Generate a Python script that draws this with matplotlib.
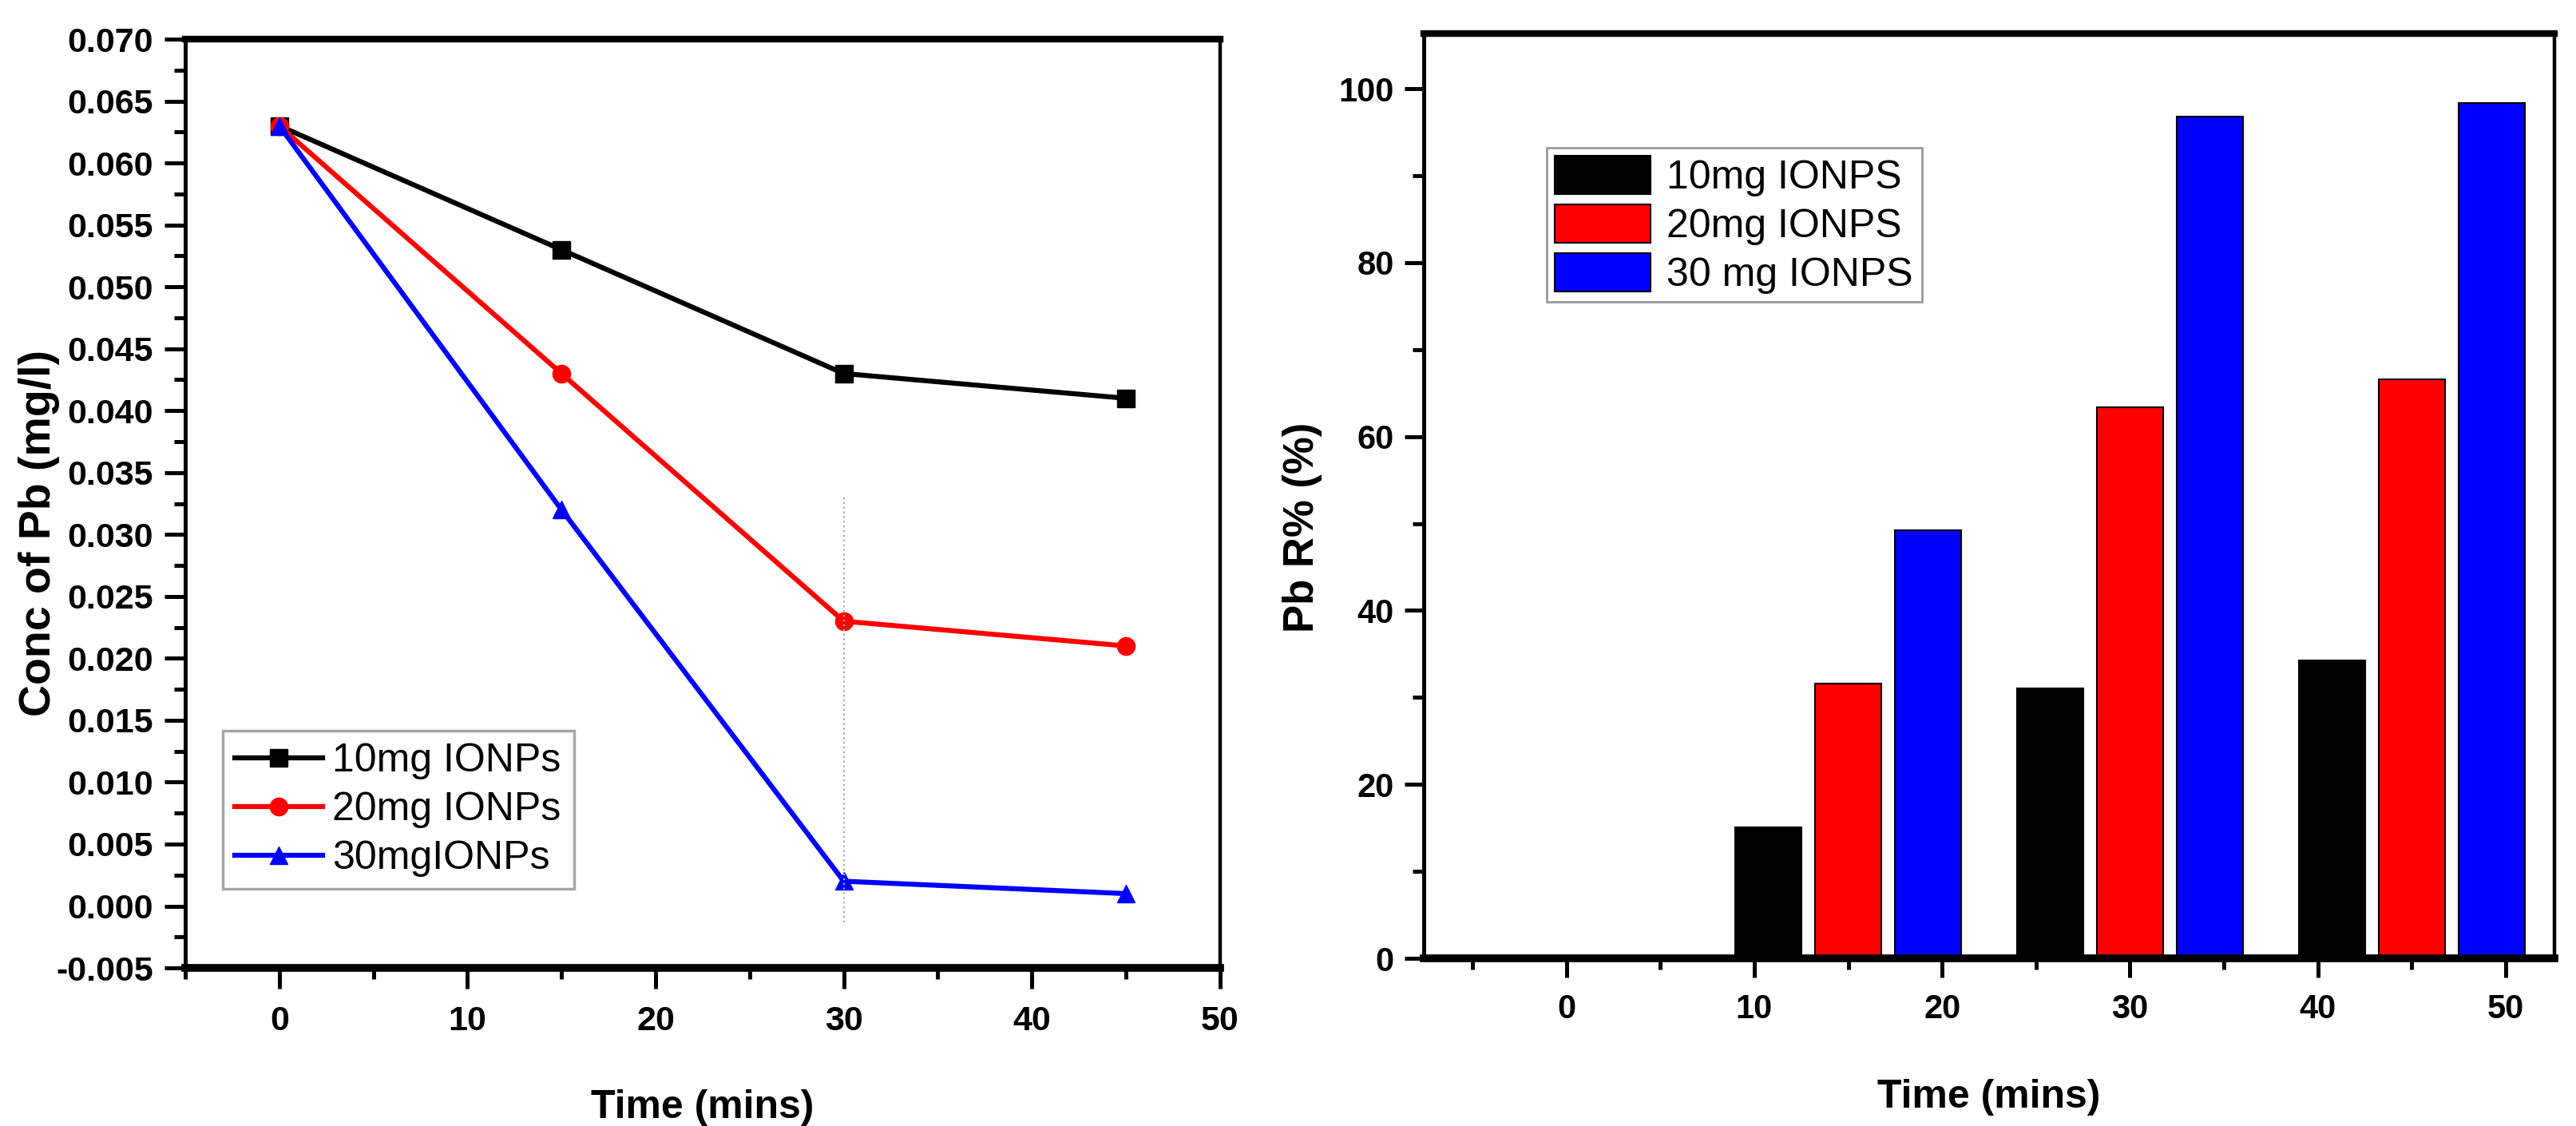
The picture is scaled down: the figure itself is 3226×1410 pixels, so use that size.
import matplotlib
matplotlib.use("Agg")
import matplotlib.pyplot as plt
from matplotlib.ticker import MultipleLocator
import numpy as np

plt.rcParams['font.family'] = ['Liberation Sans', 'DejaVu Sans']

# data - left panel (concentration of Pb)
time_pts = [0, 15, 30, 45]
conc_10mg = [0.063, 0.053, 0.043, 0.041]
conc_20mg = [0.063, 0.043, 0.023, 0.021]
conc_30mg = [0.063, 0.032, 0.002, 0.001]
line_labels = ["10mg IONPs", "20mg IONPs", "30mgIONPs"]

# data - right panel (removal %)
bar_times = [0, 15, 30, 45]
rem_10mg = [0, 15.1, 31.0, 34.3]
rem_20mg = [0, 31.6, 63.4, 66.6]
rem_30mg = [0, 49.2, 96.8, 98.4]
bar_labels = ["10mg IONPS", "20mg IONPS", "30 mg IONPS"]

colors = ["#000000", "#ff0000", "#0000ff"]

fig = plt.figure(figsize=(32.26, 14.10), dpi=100)
ax1 = fig.add_axes([0.0719, 0.1404, 0.4017, 0.8248])
ax2 = fig.add_axes([0.5527, 0.1489, 0.4389, 0.8213])


def style_axes(ax, tick_size):
    ax.spines['top'].set_linewidth(6)
    ax.spines['bottom'].set_linewidth(7)
    ax.spines['left'].set_linewidth(3.6)
    ax.spines['right'].set_linewidth(3.2)
    ax.tick_params(which='both', direction='out', top=False, right=False, width=3.6)
    ax.tick_params(which='major', length=19, labelsize=tick_size)
    ax.tick_params(which='minor', length=10)
    ax.tick_params(axis='x', pad=15)
    ax.tick_params(axis='y', pad=10)
    for lab in ax.get_xticklabels() + ax.get_yticklabels():
        lab.set_fontweight('bold')


# left panel
markers = ['s', 'o', '^']
for vals, c, m, lab in zip([conc_10mg, conc_20mg, conc_30mg], colors, markers, line_labels):
    ax1.plot(time_pts, vals, color=c, lw=4.5, marker=m, markersize=16, label=lab)
ax1.vlines(30, -0.0013, 0.0332, color='#a8a8a8', lw=1.6, linestyles=':')
ax1.set_xlim(-5, 50)
ax1.set_ylim(-0.005, 0.070)
ax1.xaxis.set_major_locator(MultipleLocator(10))
ax1.xaxis.set_minor_locator(MultipleLocator(5))
ax1.yaxis.set_minor_locator(MultipleLocator(0.0025))
yt = np.arange(-0.005, 0.0701, 0.005)
ax1.set_yticks(yt)
ax1.set_yticklabels([f"{v:.3f}" for v in yt])
style_axes(ax1, 31)
ax1.set_xlabel("Time (mins)", fontsize=36, fontweight='bold')
ax1.set_ylabel("Conc of Pb (mg/l)", fontsize=40, fontweight='bold')
ax1.xaxis.set_label_coords(0.5, -0.131)
ax1.yaxis.set_label_coords(-0.121, 0.468)
leg1 = ax1.legend(loc='lower left', bbox_to_anchor=(0.036, 0.085, 0.34, 0.2), mode='expand',
                  fontsize=36, frameon=True, fancybox=False, handlelength=2.2,
                  handletextpad=0.25, borderpad=0.3, labelspacing=0.3, borderaxespad=0)
leg1.get_frame().set_edgecolor('#909090')
leg1.get_frame().set_linewidth(2.5)

# right panel
bw = 3.53
offs = [-4.25, 0, 4.25]
x = np.array(bar_times, dtype=float)
for vals, c, o, lab in zip([rem_10mg, rem_20mg, rem_30mg], colors, offs, bar_labels):
    ax2.bar(x + o, vals, width=bw, color=c, edgecolor='#000000', linewidth=1.5, label=lab)
ax2.set_xlim(-7.6, 52.6)
ax2.set_ylim(0, 106.35)
ax2.xaxis.set_major_locator(MultipleLocator(10))
ax2.xaxis.set_minor_locator(MultipleLocator(5))
ax2.yaxis.set_major_locator(MultipleLocator(20))
ax2.yaxis.set_minor_locator(MultipleLocator(10))
style_axes(ax2, 30)
ax2.tick_params(which='major', length=17)
ax2.set_xlabel("Time (mins)", fontsize=36, fontweight='bold')
ax2.set_ylabel("Pb R% (%)", fontsize=38, fontweight='bold')
ax2.xaxis.set_label_coords(0.5, -0.130)
ax2.yaxis.set_label_coords(-0.090, 0.466)
leg2 = ax2.legend(loc='upper left', bbox_to_anchor=(0.109, 0.6917, 0.332, 0.185), mode='expand',
                  fontsize=36, frameon=True, fancybox=False, handlelength=2.4, handleheight=1.1,
                  handletextpad=0.4, borderpad=0.2, labelspacing=0.2, borderaxespad=0)
leg2.get_frame().set_edgecolor('#808080')
leg2.get_frame().set_linewidth(2)

fig.savefig("out.png", dpi=100, facecolor='white')
